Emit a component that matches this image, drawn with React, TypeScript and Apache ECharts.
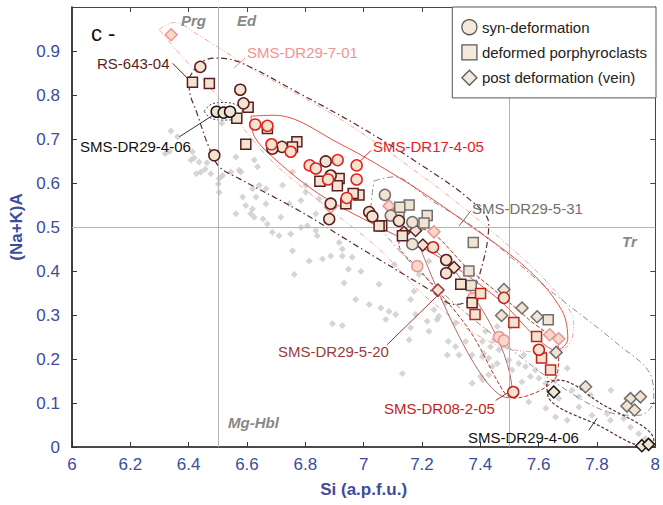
import React, { useEffect, useRef } from "react";
import * as echarts from "echarts";

// ---------- data (Si apfu, (Na+K)A) ----------
const referenceAmphiboles = [
  [6.339,0.718],[6.362,0.705],[6.320,0.667],[6.334,0.672],[6.408,0.652],[6.419,0.657],[6.436,0.648],[6.463,0.646],[6.442,0.625],[6.427,0.621],[6.457,0.631],[6.476,0.621],[6.505,0.610],[6.502,0.598],[6.505,0.579],[6.516,0.617],[6.545,0.625],[6.562,0.659],[6.573,0.629],[6.625,0.652],[6.636,0.637],[6.585,0.568],[6.619,0.587],[6.631,0.568],[6.665,0.587],[6.665,0.553],[6.596,0.549],[6.619,0.541],[6.562,0.530],[6.655,0.518],[6.722,0.595],[6.716,0.522],[6.745,0.553],[6.785,0.560],[6.802,0.579],[6.847,0.564],[6.836,0.530],[6.785,0.499],[6.807,0.503],[6.687,0.488],[6.710,0.480],[6.750,0.484],[6.836,0.492],[6.841,0.480],[6.756,0.446],[6.813,0.423],[6.859,0.427],[6.887,0.434],[6.762,0.392],[6.613,0.530],[6.625,0.522],[6.670,0.507],[6.916,0.465],[6.927,0.450],[6.927,0.434],[6.961,0.431],[6.948,0.404],[6.933,0.373],[6.973,0.335],[6.893,0.280],[6.927,0.276],[7.019,0.324],[7.053,0.370],[7.059,0.316],[7.087,0.308],[7.076,0.290],[7.110,0.301],[7.161,0.335],[7.173,0.354],[7.178,0.301],[7.161,0.271],[7.156,0.244],[7.218,0.286],[7.224,0.263],[7.241,0.312],[7.258,0.297],[7.281,0.328],[7.290,0.240],[7.315,0.228],[7.287,0.209],[7.327,0.209],[7.350,0.240],[7.372,0.209],[7.412,0.213],[7.429,0.202],[7.447,0.244],[7.315,0.282],[7.252,0.290],[7.133,0.167],[7.372,0.145],[7.401,0.160],[7.429,0.164],[7.441,0.183],[7.407,0.240],[7.435,0.228],[7.407,0.205],[7.464,0.221],[7.492,0.228],[7.458,0.190],[7.498,0.198],[7.509,0.175],[7.532,0.190],[7.555,0.183],[7.549,0.209],[7.589,0.175],[7.572,0.160],[7.543,0.148],[7.601,0.156],[7.624,0.145],[7.658,0.152],[7.698,0.179],[7.669,0.110],[7.715,0.129],[7.738,0.114],[7.738,0.091],[7.778,0.118],[7.783,0.072],[7.835,0.076],[7.846,0.061],[7.892,0.065],[7.915,0.045],[7.943,0.030],[7.966,0.019],[7.409,0.152],[7.418,0.263],[7.504,0.274],[7.458,0.274],[7.658,0.068],[7.698,0.061],[6.413,0.671],[6.514,0.736],[6.579,0.625],[6.642,0.595],[6.756,0.625],[6.802,0.595],[6.991,0.399],[7.105,0.415],[7.190,0.392],[7.224,0.422],[7.848,0.129],[7.625,0.088],[7.566,0.102],
];

const rs64304Circles = [[6.440,0.864],[6.577,0.812],[6.588,0.781],[6.488,0.663],[6.720,0.682],[6.687,0.678],[6.870,0.649],[6.887,0.617],[6.887,0.553],[6.882,0.518],[7.019,0.534],[7.030,0.524],[7.121,0.514],[7.283,0.425],[7.283,0.395]];
const rs64304Squares = [[6.413,0.829],[6.471,0.826],[6.604,0.772],[6.565,0.747],[6.596,0.688],[6.670,0.724],[6.771,0.694],[6.756,0.682],[6.850,0.604],[6.916,0.610],[6.910,0.594],[6.984,0.573],[6.964,0.576],[6.939,0.553],[7.062,0.503],[7.053,0.502],[7.133,0.480],[7.333,0.370],[7.372,0.328]];
const rs64304Diamonds = [[7.138,0.488],[7.178,0.492],[7.203,0.459],[7.310,0.408]];
const dr2906Circles = [[6.496,0.762],[6.520,0.760],[6.542,0.762]];
const dr2906Diamonds = [[7.652,0.125],[7.954,0.003],[7.977,0.006]];
const dr17Circles = [[6.628,0.733],[6.670,0.730],[6.684,0.688],[6.750,0.671],[6.815,0.640],[6.836,0.633],[6.911,0.652],[6.976,0.640],[6.976,0.608],[6.878,0.608],[6.942,0.566]];
const dr08Squares = [[7.401,0.349],[7.382,0.301],[7.515,0.283],[7.593,0.251],[7.610,0.202],[7.641,0.175]];
const dr08Circles = [[7.238,0.454],[7.481,0.339],[7.601,0.221],[7.513,0.125]];
const dr2971Diamonds = [[6.340,0.937],[6.887,0.545],[7.087,0.548],[7.241,0.489],[7.638,0.255],[7.669,0.246]];
const dr2971Circles = [[7.184,0.411],[7.375,0.338],[7.464,0.250],[7.481,0.242]];
const dr2531Circles = [[7.073,0.573],[7.093,0.526],[7.167,0.511],[7.167,0.461]];
const dr2531Squares = [[7.156,0.550],[7.121,0.530],[7.218,0.526],[7.207,0.509],[7.124,0.545],[7.376,0.465],[7.361,0.400],[7.369,0.367],[7.633,0.289]];
const dr2531Diamonds = [[7.481,0.358],[7.543,0.316],[7.473,0.299],[7.595,0.296],[7.660,0.215],[7.761,0.137],[7.915,0.110],[7.949,0.114],[7.903,0.093],[7.929,0.084]];
const dr2520Diamonds = [[7.255,0.357]];

// sample field outlines (data units)
const outlineRS64304 = [[6.402,0.839],[6.436,0.871],[6.488,0.884],[6.573,0.875],[6.779,0.804],[6.984,0.729],[7.190,0.644],[7.361,0.564],[7.429,0.507],[7.412,0.427],[7.361,0.335],[7.310,0.324],[7.224,0.358],[6.984,0.454],[6.779,0.537],[6.573,0.610],[6.505,0.637],[6.471,0.679],[6.429,0.758],[6.402,0.816]];
const outlineDR2971 = [[6.299,0.949],[6.351,0.965],[6.436,0.935],[6.642,0.850],[6.916,0.747],[7.190,0.621],[7.429,0.496],[7.652,0.358],[7.720,0.278],[7.703,0.232],[7.635,0.216],[7.464,0.230],[7.224,0.335],[7.053,0.450],[6.882,0.541],[6.676,0.656],[6.505,0.793],[6.351,0.907]];
const outlineDR17 = [[6.614,0.752],[6.693,0.754],[6.916,0.690],[7.156,0.598],[7.361,0.505],[7.566,0.402],[7.680,0.310],[7.700,0.245],[7.660,0.220],[7.590,0.250],[7.464,0.335],[7.258,0.432],[7.053,0.500],[6.847,0.575],[6.693,0.656],[6.625,0.706]];
const outlineDR08 = [[7.121,0.484],[7.190,0.496],[7.361,0.404],[7.566,0.290],[7.669,0.221],[7.663,0.164],[7.515,0.111],[7.481,0.125],[7.361,0.267],[7.190,0.404],[7.121,0.461]];
const outlineDR2520 = [[7.190,0.460],[7.230,0.456],[7.510,0.118],[7.495,0.112]];
const outlineDR2531 = [[7.036,0.605],[7.104,0.614],[7.224,0.564],[7.395,0.491],[7.635,0.358],[7.875,0.232],[7.984,0.164],[7.995,0.106],[7.943,0.072],[7.840,0.079],[7.669,0.141],[7.464,0.244],[7.258,0.358],[7.087,0.473],[7.025,0.541]];
const outlineDR2906a = [[6.453,0.763],[6.477,0.779],[6.522,0.783],[6.566,0.777],[6.584,0.763],[6.566,0.747],[6.522,0.743],[6.477,0.747]];
const outlineDR2906b = [[7.628,0.148],[7.669,0.152],[7.806,0.102],[7.995,0.015],[7.977,0.0],[7.806,0.049],[7.635,0.111]];

const leaderRS = [[6.345,0.872],[6.402,0.834]];
const leader2906a = [[6.368,0.705],[6.488,0.756]];
const leader2971 = [[6.556,0.862],[6.594,0.884]];
const leaderDR17 = [[6.977,0.642],[7.025,0.674]];
const leader2531 = [[7.327,0.502],[7.368,0.537]];
const leader2520 = [[7.080,0.232],[7.258,0.347]];
const leaderDR08 = [[7.453,0.106],[7.498,0.125]];
const leader2906b = [[7.772,0.038],[7.800,0.065]];

const xTicks = { min: 6, max: 8, step: 0.2 };
const yTicks = { min: 0, max: 1, step: 0.1 };
const legendNames = ["syn-deformation", "deformed porphyroclasts", "post deformation (vein)"];

// ---------- styles ----------
const FILL = "#f3e3d2";
const PINKFILL = "#f6d9c9";
const C = {
  rs: "#5b1d1d",
  d2906: "#161616",
  d17: "#e8201c",
  d08: "#c2241c",
  d2971: "#f19393",
  d2531: "#6f6f6f",
  d2520: "#9b3a3a",
};
const BLUE = "#3d4c9c";
const FONT = "'Liberation Sans', Arial, sans-serif";

function pts(name: string, data: number[][], symbol: string, edge: string, fill = FILL, z = 5) {
  const size = symbol === "circle" ? 11 : symbol === "rect" ? 10 : 12;
  return {
    name, type: "scatter", data, symbol, symbolSize: size, z,
    itemStyle: { color: fill, borderColor: edge, borderWidth: 1.5, opacity: 1 },
    emphasis: { disabled: true },
  };
}
function closed(name: string, data: number[][], color: string, type: any, width = 1) {
  return {
    name, type: "line", data: [...data, data[0]], smooth: 0.35, symbol: "none", z: 3,
    lineStyle: { color, width, type }, silent: true,
  };
}
function leader(name: string, data: number[][], color: string) {
  return { name, type: "line", data, symbol: "none", z: 3, lineStyle: { color, width: 1 }, silent: true };
}

const fmt = (v: number) => String(Math.round(v * 10) / 10);

export default function App() {
  const ref = useRef<HTMLDivElement>(null);
  useEffect(() => {
    const chart = echarts.init(ref.current!, null, { renderer: "svg" });
    const dashDot = [6, 3, 1.5, 3];
    const label = (text: string, x: number, y: number, fill: string, extra: any = {}) => ({
      type: "text", x, y, z: 20,
      style: { text, fill, fontSize: 15, fontFamily: FONT, verticalAlign: "middle", ...extra },
    });
    const region = { fontWeight: "bold", fontStyle: "italic" };
    const option: any = {
      animation: false,
      textStyle: { fontFamily: FONT },
      grid: { left: 72, right: 7, top: 7, bottom: 58 },
      xAxis: [
        {
          type: "value", min: xTicks.min, max: xTicks.max, interval: xTicks.step,
          axisLine: { onZero: false, lineStyle: { color: "#111", width: 1.6 } },
          axisTick: { inside: true, length: 5, lineStyle: { color: "#333" } },
          axisLabel: { color: BLUE, fontSize: 17, margin: 9, formatter: fmt },
          splitLine: { show: false },
          name: "Si (a.p.f.u.)", nameLocation: "middle", nameGap: 34,
          nameTextStyle: { color: BLUE, fontSize: 17, fontWeight: "bold" },
        },
        {
          type: "value", position: "top", min: xTicks.min, max: xTicks.max, interval: xTicks.step,
          axisLine: { onZero: false, lineStyle: { color: "#444", width: 1 } },
          axisTick: { inside: true, length: 5, lineStyle: { color: "#444" } },
          axisLabel: { show: false }, splitLine: { show: false },
        },
      ],
      yAxis: [
        {
          type: "value", min: yTicks.min, max: yTicks.max, interval: yTicks.step,
          axisLine: { onZero: false, lineStyle: { color: "#111", width: 1.6 } },
          axisTick: { inside: true, length: 5, lineStyle: { color: "#333" } },
          axisLabel: { color: BLUE, fontSize: 17, margin: 12, showMaxLabel: false, formatter: fmt },
          splitLine: { show: false },
          name: "(Na+K)A", nameLocation: "middle", nameGap: 46,
          nameTextStyle: { color: BLUE, fontSize: 17, fontWeight: "bold" },
        },
        {
          type: "value", position: "right", min: yTicks.min, max: yTicks.max, interval: yTicks.step,
          axisLine: { onZero: false, lineStyle: { color: "#444", width: 1 } },
          axisTick: { inside: true, length: 5, lineStyle: { color: "#444" } },
          axisLabel: { show: false }, splitLine: { show: false },
        },
      ],
      legend: {
        data: legendNames.map((n, i) => ({ name: n, icon: ["circle", "rect", "diamond"][i] })),
        orient: "vertical", right: 7, top: 7,
        backgroundColor: "#fff", borderColor: "#555", borderWidth: 1,
        padding: [12, 9, 12, 9], itemGap: 9, itemWidth: 15, itemHeight: 15,
        itemStyle: { color: FILL, borderColor: "#333", borderWidth: 1.3 },
        textStyle: { color: "#222", fontSize: 15, fontFamily: FONT },
        selectedMode: false, z: 10,
      },
      series: [
        {
          name: "reference", type: "scatter", data: referenceAmphiboles, symbol: "diamond", symbolSize: 7, z: 1,
          itemStyle: { color: "#cbcbcb" }, silent: true,
          markLine: {
            silent: true, symbol: "none", label: { show: false },
            lineStyle: { color: "#b5b5b5", width: 1, type: "solid" },
            data: [{ xAxis: 6.5 }, { xAxis: 7.5 }, { yAxis: 0.5 }],
          },
        },
        closed("o-2531", outlineDR2531, "#8a8a8a", dashDot, 1),
        closed("o-2971", outlineDR2971, "#f3a3a3", [5, 2, 1, 2, 1, 2], 1),
        closed("o-rs", outlineRS64304, "#5b2a2a", dashDot, 1.2),
        closed("o-17", outlineDR17, "#e83a30", "solid", 0.9),
        closed("o-08", outlineDR08, "#c0302a", [4, 2], 1),
        closed("o-2520", outlineDR2520, "#a04545", "solid", 0.8),
        closed("o-2906a", outlineDR2906a, "#444", [2, 2], 1),
        closed("o-2906b", outlineDR2906b, "#5b2a2a", [3, 2], 1.2),
        leader("l-rs", leaderRS, C.rs),
        leader("l-2906a", leader2906a, "#333"),
        leader("l-2971", leader2971, C.d2971),
        leader("l-17", leaderDR17, C.d17),
        leader("l-2531", leader2531, C.d2531),
        leader("l-2520", leader2520, C.d2520),
        leader("l-08", leaderDR08, C.d08),
        leader("l-2906b", leader2906b, "#333"),
        pts("s-2531-d", dr2531Diamonds, "diamond", C.d2531),
        pts("s-2971-d", dr2971Diamonds, "diamond", C.d2971, PINKFILL),
        pts("s-2971-c", dr2971Circles, "circle", C.d2971, PINKFILL),
        pts("s-rs-d", rs64304Diamonds, "diamond", C.rs),
        pts("s-2520-d", dr2520Diamonds, "diamond", C.d2520),
        pts("s-2906-d", dr2906Diamonds, "diamond", C.d2906),
        pts("s-2531-s", dr2531Squares, "rect", C.d2531),
        pts("s-2531-c", dr2531Circles, "circle", C.d2531),
        pts("s-rs-s", rs64304Squares, "rect", C.rs),
        pts("s-rs-c", rs64304Circles, "circle", C.rs),
        pts("s-2906-c", dr2906Circles, "circle", C.d2906),
        pts("s-17-c", dr17Circles, "circle", C.d17),
        pts("s-08-s", dr08Squares, "rect", C.d08),
        pts("s-08-c", dr08Circles, "circle", C.d08),
        ...legendNames.map((n, i) => ({
          name: n, type: "scatter", data: [], symbol: ["circle", "rect", "diamond"][i],
          itemStyle: { color: FILL, borderColor: "#333", borderWidth: 1.3 },
        })),
      ],
      graphic: [
        label("c -", 91, 33, "#111", { fontSize: 22 }),
        label("Prg", 181, 20, "#888", region),
        label("Ed", 237, 20, "#888", region),
        label("Tr", 622, 241, "#888", region),
        label("Mg-Hbl", 228, 422, "#888", region),
        label("RS-643-04", 97, 63, C.rs),
        label("SMS-DR29-4-06", 80, 146, "#111"),
        label("SMS-DR29-7-01", 247, 52, C.d2971),
        label("SMS-DR17-4-05", 373, 146, C.d17),
        label("SMS-DR29-5-31", 472, 208, C.d2531),
        label("SMS-DR29-5-20", 278, 351, C.d2520),
        label("SMS-DR08-2-05", 384, 408, C.d08),
        label("SMS-DR29-4-06", 468, 437, "#111"),
      ],
    };
    chart.setOption(option);
    return () => chart.dispose();
  }, []);
  return <div ref={ref} style={{ position: "fixed", left: 0, top: 0, width: 663, height: 505, background: "#fff" }} />;
}
